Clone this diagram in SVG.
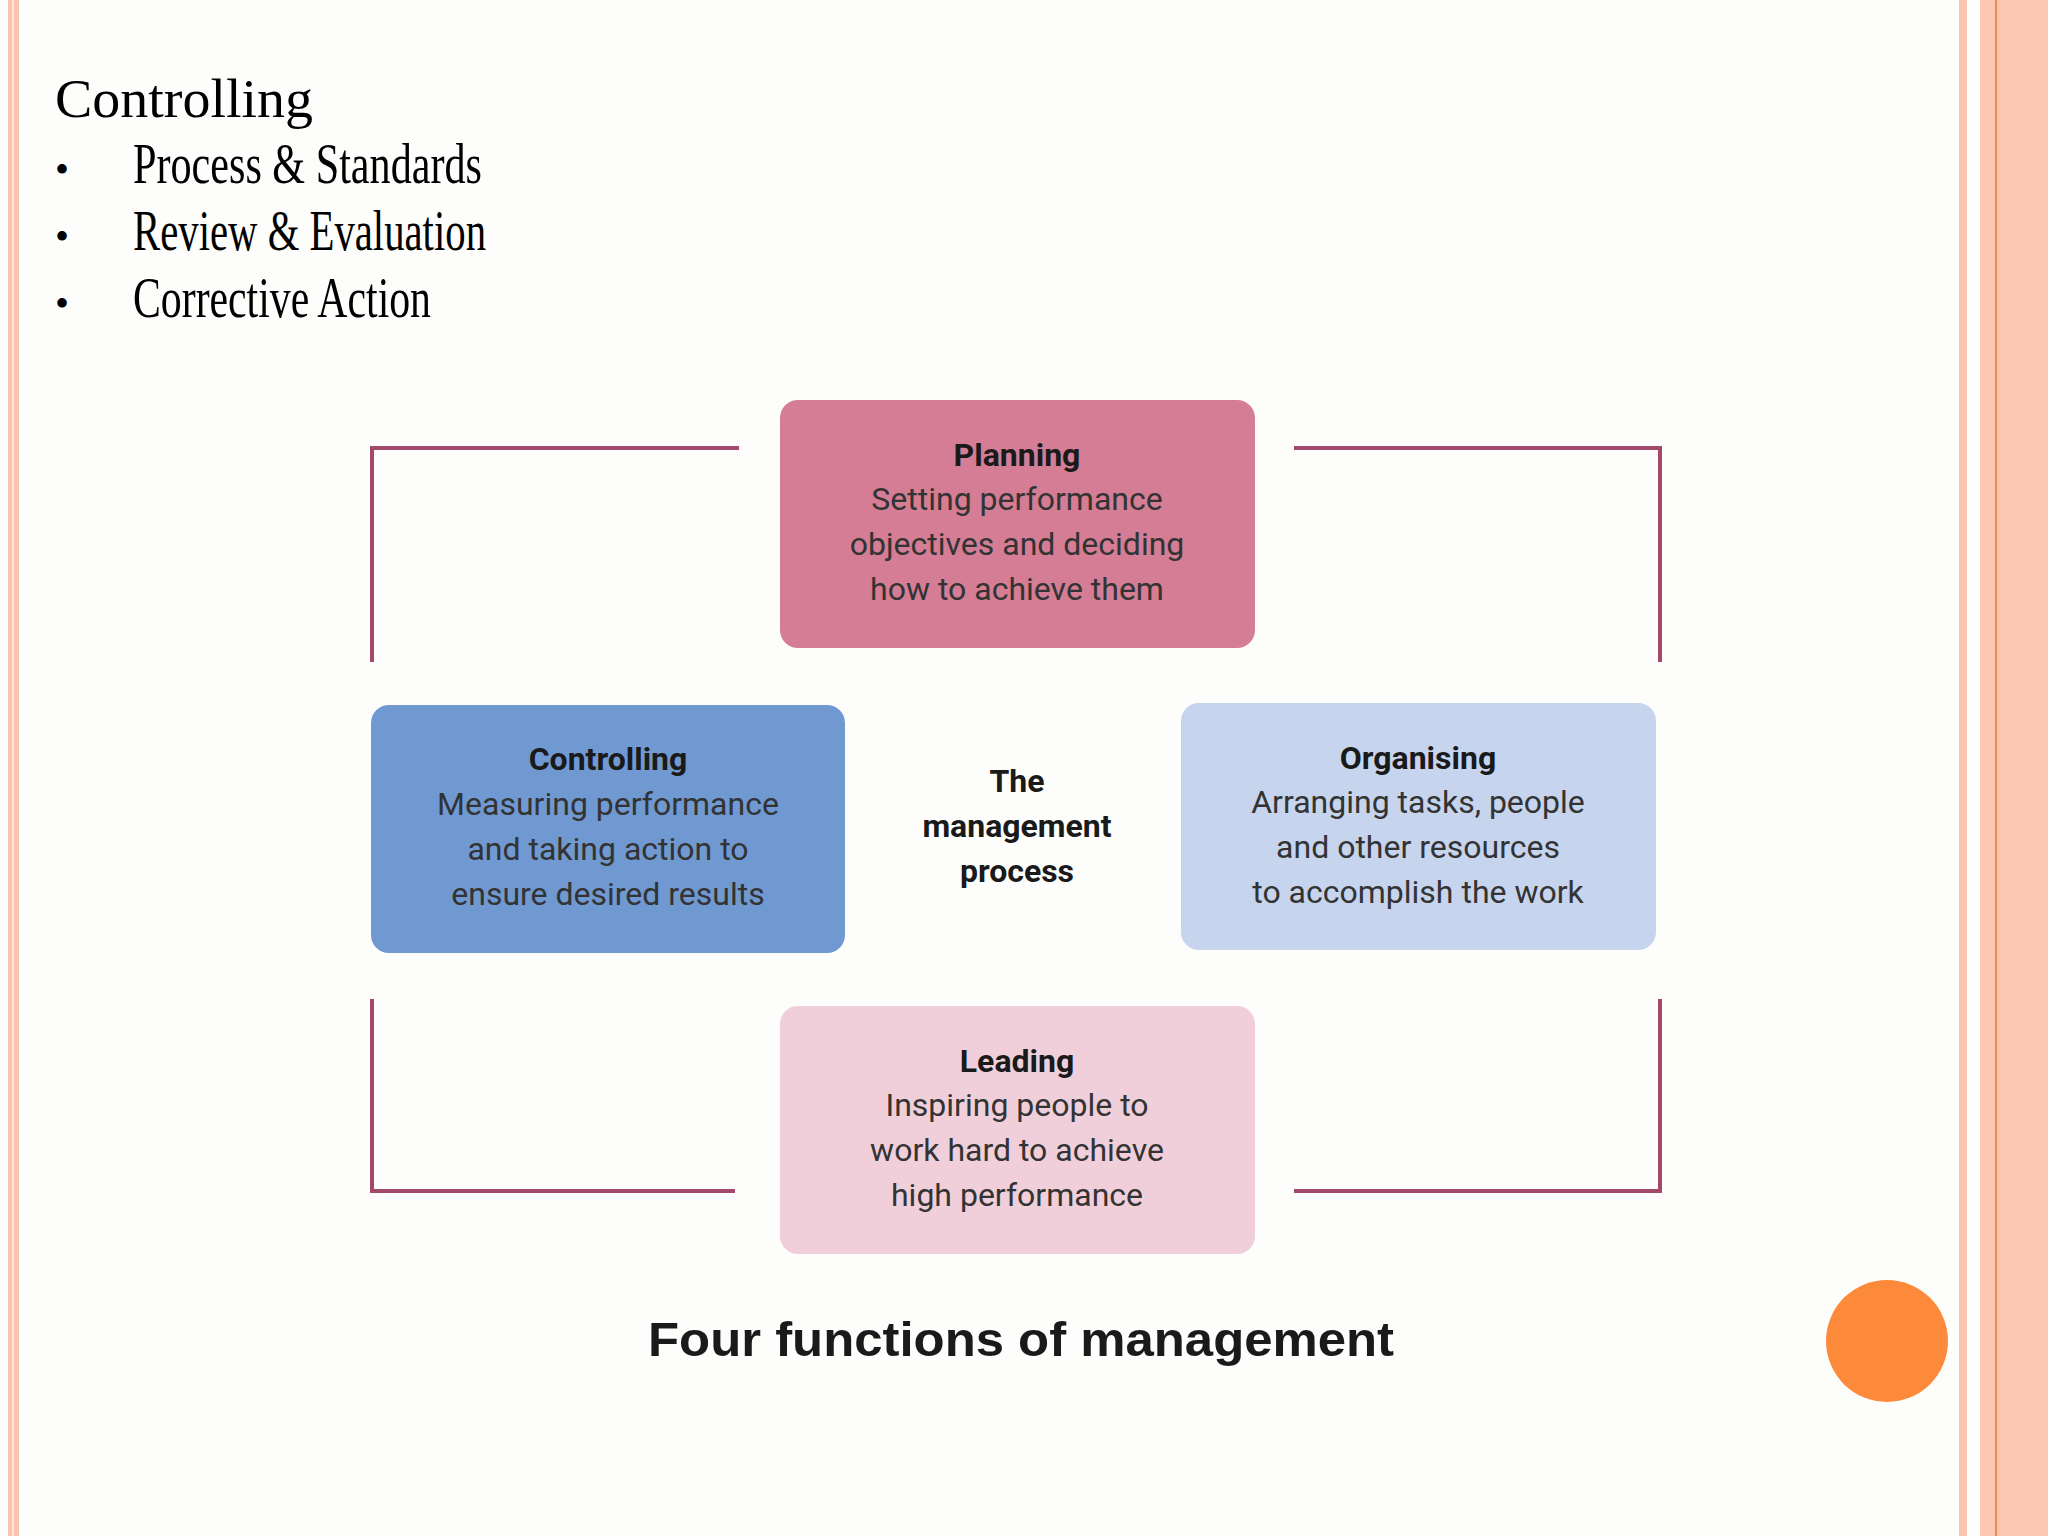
<svg xmlns="http://www.w3.org/2000/svg" width="2048" height="1536" viewBox="0 0 2048 1536">
<style>
.h{font-family:"Liberation Serif",serif;fill:#000}
.t{font-family:"Roboto","Liberation Sans",sans-serif;font-size:32px;fill:#333;text-anchor:middle}
.b{font-weight:bold;fill:#1a1a1a}
.br{fill:none;stroke:#a3496c;stroke-width:4}
</style>
<rect width="2048" height="1536" fill="#fdfdfb"/>
<rect x="8" y="0" width="11" height="1536" fill="#fbc4b0"/>
<rect x="12" y="0" width="2" height="1536" fill="#fde3d8"/>
<rect x="1959" y="0" width="8" height="1536" fill="#fbc4b0"/>
<rect x="1980" y="0" width="68" height="1536" fill="#fcc8b4"/>
<rect x="1995" y="0" width="2" height="1536" fill="#f08a50"/>
<text class="h" x="55" y="117" font-size="54" textLength="258" lengthAdjust="spacingAndGlyphs">Controlling</text>
<g class="h" font-size="56">
<text x="55" y="183" font-size="40">•</text><text x="133" y="183" textLength="349" lengthAdjust="spacingAndGlyphs">Process &amp; Standards</text>
<text x="55" y="250" font-size="40">•</text><text x="133" y="250" textLength="353" lengthAdjust="spacingAndGlyphs">Review &amp; Evaluation</text>
<text x="55" y="317" font-size="40">•</text><text x="133" y="317" textLength="298" lengthAdjust="spacingAndGlyphs">Corrective Action</text>
</g>
<g id="connectors">
<path class="br" d="M739,448 H372 V662"/>
<path class="br" d="M1294,448 H1660 V662"/>
<path class="br" d="M372,999 V1191 H735"/>
<path class="br" d="M1294,1191 H1660 V999"/>
</g>
<g id="planning">
<rect x="780" y="400" width="475" height="248" rx="18" fill="#d47d95"/>
<text class="t b" x="1017" y="466">Planning</text>
<text class="t" x="1017" y="510">Setting performance</text>
<text class="t" x="1017" y="555">objectives and deciding</text>
<text class="t" x="1017" y="600">how to achieve them</text>
</g>
<g id="controlling">
<rect x="371" y="705" width="474" height="248" rx="18" fill="#7099d2"/>
<text class="t b" x="608" y="770">Controlling</text>
<text class="t" x="608" y="815">Measuring performance</text>
<text class="t" x="608" y="860">and taking action to</text>
<text class="t" x="608" y="905">ensure desired results</text>
</g>
<g id="organising">
<rect x="1181" y="703" width="475" height="247" rx="18" fill="#c6d4ed"/>
<text class="t b" x="1418" y="769">Organising</text>
<text class="t" x="1418" y="813">Arranging tasks, people</text>
<text class="t" x="1418" y="858">and other resources</text>
<text class="t" x="1418" y="903">to accomplish the work</text>
</g>
<g id="leading">
<rect x="780" y="1006" width="475" height="248" rx="18" fill="#f0cfda"/>
<text class="t b" x="1017" y="1072">Leading</text>
<text class="t" x="1017" y="1116">Inspiring people to</text>
<text class="t" x="1017" y="1161">work hard to achieve</text>
<text class="t" x="1017" y="1206">high performance</text>
</g>
<g id="center">
<text class="t b" x="1017" y="792">The</text>
<text class="t b" x="1017" y="837">management</text>
<text class="t b" x="1017" y="882">process</text>
</g>
<text x="1021" y="1356" font-family="Liberation Sans,sans-serif" font-weight="bold" font-size="48" fill="#1a1a1a" text-anchor="middle" textLength="746" lengthAdjust="spacingAndGlyphs">Four functions of management</text>
<circle cx="1887" cy="1341" r="61" fill="#fd8a3a"/>
</svg>
